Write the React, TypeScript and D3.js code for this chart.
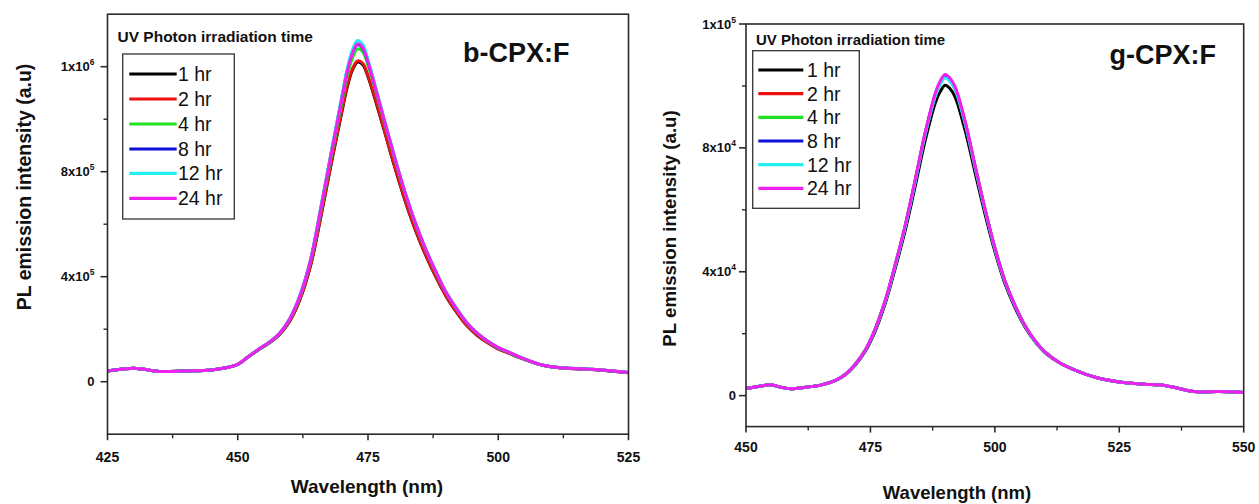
import React from "react";
import * as d3 from "d3";

// legend entries, shared by both panels
const seriesNames = ["1 hr", "2 hr", "4 hr", "8 hr", "12 hr", "24 hr"];
const seriesColors = ["#000000", "#ee1111", "#22e022", "#1010d8", "#22f0f0", "#f020f0"];

// ---- b-CPX:F  (intensity in units of 1e3 a.u.)
const bWavelength = [425, 428, 430, 432, 435, 440, 445, 448, 450, 452, 454, 456, 458, 460, 462, 464, 466, 468, 470, 471, 472, 473, 474, 475, 476, 478, 480, 482, 484, 486, 488, 490, 492, 494, 496, 498, 500, 502, 505, 508, 510, 513, 518, 522, 525];
const b1hr = [41, 48, 51, 47, 39, 41, 45, 54, 66, 94, 122, 147, 179, 231, 316, 444, 633, 836, 1030, 1121, 1187, 1218, 1208, 1162, 1100, 965, 826, 697, 583, 485, 400, 325, 265, 213, 176, 148, 125, 109, 85, 65, 57, 51, 46, 40, 34];
const b2hr = [41, 48, 51, 47, 39, 41, 45, 54, 66, 94, 122, 148, 180, 232, 318, 446, 636, 840, 1034, 1126, 1192, 1222, 1212, 1166, 1104, 968, 829, 699, 585, 487, 402, 326, 266, 214, 177, 148, 125, 109, 85, 65, 57, 51, 46, 40, 34];
const b4hr = [41, 48, 51, 47, 39, 41, 45, 54, 66, 95, 123, 149, 183, 238, 327, 460, 656, 864, 1066, 1164, 1232, 1268, 1256, 1205, 1140, 998, 857, 724, 607, 505, 418, 338, 276, 222, 183, 153, 129, 112, 86, 66, 58, 52, 47, 41, 35];
const b8hr = [41, 48, 51, 47, 39, 41, 45, 54, 66, 95, 124, 150, 184, 240, 331, 466, 667, 878, 1084, 1184, 1254, 1284, 1270, 1218, 1150, 1005, 862, 728, 610, 508, 420, 340, 278, 224, 184, 154, 130, 113, 87, 66, 58, 52, 47, 41, 35];
const b12hr = [41, 48, 51, 47, 39, 41, 45, 54, 66, 95, 124, 150, 184, 241, 332, 468, 670, 882, 1090, 1192, 1264, 1300, 1285, 1228, 1156, 1008, 864, 729, 611, 509, 421, 341, 279, 225, 185, 154, 130, 113, 87, 66, 58, 52, 47, 41, 35];
const b24hr = [41, 48, 51, 47, 39, 41, 45, 54, 66, 95, 124, 150, 184, 240, 330, 465, 665, 875, 1080, 1180, 1250, 1287, 1272, 1218, 1150, 1005, 862, 728, 610, 508, 420, 340, 278, 224, 184, 154, 130, 113, 87, 66, 58, 52, 47, 41, 35];

// ---- g-CPX:F  (intensity in units of 1e3 a.u.)
const gWavelength = [450, 453, 455, 457, 459, 462, 465, 468, 470, 472, 474, 476, 478, 480, 482, 484, 486, 488, 489, 490, 491, 492, 494, 496, 498, 500, 502, 504, 506, 508, 510, 513, 516, 520, 525, 530, 533, 536, 540, 545, 550];
const g1hr = [2.3, 3.1, 3.5, 2.7, 2.2, 2.7, 3.4, 4.9, 6.8, 10.0, 14.4, 21.0, 29.9, 41.2, 53.4, 67.6, 82.3, 94.3, 98.1, 100.2, 99.1, 96.5, 85.8, 72.2, 58.8, 46.6, 36.3, 28.6, 22.3, 17.6, 14.0, 10.6, 8.3, 6.0, 4.4, 3.7, 3.5, 2.7, 1.3, 1.3, 1.0];
const g2hr = [2.3, 3.1, 3.5, 2.7, 2.2, 2.7, 3.4, 4.9, 6.9, 10.2, 14.7, 21.6, 30.7, 42.2, 54.8, 69.4, 84.5, 96.8, 100.8, 103.0, 101.8, 99.2, 88.2, 74.1, 60.2, 47.6, 37.1, 29.2, 22.7, 17.8, 14.2, 10.6, 8.3, 6.0, 4.4, 3.7, 3.5, 2.7, 1.3, 1.3, 1.0];
const g4hr = [2.3, 3.1, 3.5, 2.7, 2.2, 2.7, 3.4, 4.9, 6.9, 10.2, 14.7, 21.6, 30.7, 42.3, 54.9, 69.5, 84.6, 97.0, 101.0, 103.2, 102.0, 99.3, 88.4, 74.2, 60.3, 47.7, 37.1, 29.2, 22.7, 17.8, 14.2, 10.6, 8.3, 6.0, 4.4, 3.7, 3.5, 2.7, 1.3, 1.3, 1.0];
const g8hr = [2.3, 3.1, 3.5, 2.7, 2.2, 2.7, 3.4, 4.9, 6.9, 10.2, 14.7, 21.6, 30.7, 42.2, 54.8, 69.4, 84.6, 96.9, 100.9, 103.0, 101.8, 99.2, 88.3, 74.1, 60.2, 47.6, 37.1, 29.2, 22.7, 17.8, 14.2, 10.6, 8.3, 6.0, 4.4, 3.7, 3.5, 2.7, 1.3, 1.3, 1.0];
const g12hr = [2.3, 3.1, 3.5, 2.7, 2.2, 2.7, 3.4, 4.9, 6.9, 10.2, 14.7, 21.5, 30.6, 42.1, 54.6, 69.1, 84.2, 96.4, 100.4, 102.6, 101.4, 98.8, 88.0, 73.9, 60.1, 47.5, 37.0, 29.2, 22.7, 17.8, 14.2, 10.6, 8.3, 6.0, 4.4, 3.7, 3.5, 2.7, 1.3, 1.3, 1.0];
const g24hr = [2.3, 3.1, 3.5, 2.7, 2.2, 2.7, 3.4, 4.9, 6.9, 10.2, 14.8, 21.7, 30.9, 42.5, 55.1, 69.8, 85.0, 97.5, 101.5, 103.7, 102.5, 99.8, 88.8, 74.5, 60.5, 47.8, 37.2, 29.3, 22.8, 17.9, 14.2, 10.6, 8.3, 6.0, 4.4, 3.7, 3.5, 2.7, 1.3, 1.3, 1.0];

// axis ticks (labels as printed on the original)
const bXTicks = [425, 450, 475, 500, 525];
const bYTicks = [0, 400000, 800000, 1200000];
const bYMinor = [200000, 600000, 1000000];
const bYLabels: [string, string][] = [["0", ""], ["4x10", "5"], ["8x10", "5"], ["1x10", "6"]];

const gXTicks = [450, 475, 500, 525, 550];
const gYTicks = [0, 40000, 80000, 120000];
const gYMinor = [20000, 60000, 100000];
const gYLabels: [string, string][] = [["0", ""], ["4x10", "4"], ["8x10", "4"], ["1x10", "5"]];

const FONT = "'Liberation Sans', Arial, Helvetica, sans-serif";

type Panel = {
  title: string;
  wavelength: number[];
  series: number[][];
  xDomain: [number, number];
  yDomain: [number, number];
  xTicks: number[];
  yTicks: number[];
  yMinor: number[];
  yLabels: [string, string][];
  box: { l: number; r: number; t: number; b: number };
  yLabelGap: number;
  xLabelBase: number;
  xTitle: { x: number; y: number; size: number };
  yTitle: { x: number; y: number; size: number };
  titlePos: { x: number; y: number };
  legend: { tx: number; ty: number; tsize: number; bx0: number; by0: number; bx1: number; by1: number; lx0: number; lx1: number; textX: number; rows: number[] };
};

const panels: Panel[] = [
  {
    title: "b-CPX:F",
    wavelength: bWavelength,
    series: [b1hr, b2hr, b4hr, b8hr, b12hr, b24hr],
    xDomain: [425, 525],
    yDomain: [-200000, 1400000],
    xTicks: bXTicks,
    yTicks: bYTicks,
    yMinor: bYMinor,
    yLabels: bYLabels,
    box: { l: 107.5, r: 628.5, t: 14.2, b: 434.2 },
    yLabelGap: 13,
    xLabelBase: 461.5,
    xTitle: { x: 367, y: 493, size: 19 },
    yTitle: { x: 24, y: 187, size: 19.5 },
    titlePos: { x: 463, y: 61.5 },
    legend: { tx: 117.5, ty: 41.5, tsize: 15.5, bx0: 122.7, by0: 54, bx1: 234.3, by1: 219, lx0: 129.3, lx1: 176.7, textX: 178, rows: [74, 99, 124, 149, 173.3, 198.3] },
  },
  {
    title: "g-CPX:F",
    wavelength: gWavelength,
    series: [g1hr, g2hr, g4hr, g8hr, g12hr, g24hr],
    xDomain: [450, 550],
    yDomain: [-10000, 120000],
    xTicks: gXTicks,
    yTicks: gYTicks,
    yMinor: gYMinor,
    yLabels: gYLabels,
    box: { l: 746, r: 1243.7, t: 24, b: 426.6 },
    yLabelGap: 10,
    xLabelBase: 452,
    xTitle: { x: 957, y: 499, size: 18.5 },
    yTitle: { x: 669, y: 228.5, size: 18.7 },
    titlePos: { x: 1109.5, y: 63.5 },
    legend: { tx: 756, ty: 44.5, tsize: 15, bx0: 752.7, by0: 50.7, bx1: 859.3, by1: 208.3, lx0: 758.3, lx1: 803.3, textX: 807, rows: [70, 93.7, 117.3, 141, 164.7, 188.3] },
  },
];

function PanelView({ p }: { p: Panel }) {
  const x = d3.scaleLinear().domain(p.xDomain).range([p.box.l, p.box.r]);
  const y = d3.scaleLinear().domain(p.yDomain).range([p.box.b, p.box.t]);
  const xMinor = d3.pairs(p.xTicks).map(([a, b]) => (a + b) / 2);
  const line = d3
    .line<number>()
    .x((_, i) => x(p.wavelength[i]))
    .y((v) => y(v * 1000))
    .curve(d3.curveCatmullRom.alpha(0.5));
  const axisColor = "#2a2a2a";
  const lg = p.legend;

  return (
    <g fontFamily={FONT}>
      {/* curves */}
      {p.series.map((s, i) => (
        <path key={i} d={line(s) || ""} fill="none" stroke={seriesColors[i]} strokeWidth={3} strokeLinejoin="round" />
      ))}

      {/* frame */}
      <rect x={p.box.l} y={p.box.t} width={p.box.r - p.box.l} height={p.box.b - p.box.t} fill="none" stroke={axisColor} strokeWidth={1.6} />

      {/* x ticks */}
      {p.xTicks.map((t) => (
        <g key={"xt" + t}>
          <line x1={x(t)} x2={x(t)} y1={p.box.b} y2={p.box.b + 6} stroke={axisColor} strokeWidth={1.6} />
          <text x={x(t)} y={p.xLabelBase} textAnchor="middle" fontSize={14} fontWeight="bold" fill="#111">
            {t}
          </text>
        </g>
      ))}
      {xMinor.map((t) => (
        <line key={"xm" + t} x1={x(t)} x2={x(t)} y1={p.box.b} y2={p.box.b + 4} stroke={axisColor} strokeWidth={1.4} />
      ))}

      {/* y ticks */}
      {p.yTicks.map((t, i) => (
        <g key={"yt" + t}>
          <line x1={p.box.l - 7} x2={p.box.l} y1={y(t)} y2={y(t)} stroke={axisColor} strokeWidth={1.6} />
          <text x={p.box.l - p.yLabelGap} y={y(t) + 4.5} textAnchor="end" fontSize={13} fontWeight="bold" fill="#111">
            {p.yLabels[i][0]}
            {p.yLabels[i][1] && (
              <tspan fontSize={8.5} dy={-6}>
                {p.yLabels[i][1]}
              </tspan>
            )}
          </text>
        </g>
      ))}
      {p.yMinor.map((t) => (
        <line key={"ym" + t} x1={p.box.l - 4} x2={p.box.l} y1={y(t)} y2={y(t)} stroke={axisColor} strokeWidth={1.4} />
      ))}

      {/* axis titles */}
      <text x={p.xTitle.x} y={p.xTitle.y} textAnchor="middle" fontSize={p.xTitle.size} fontWeight="bold" fill="#111">
        Wavelength (nm)
      </text>
      <text
        transform={`translate(${p.yTitle.x},${p.yTitle.y}) rotate(-90)`}
        textAnchor="middle"
        dominantBaseline="central"
        fontSize={p.yTitle.size}
        fontWeight="bold"
        fill="#111"
      >
        PL emission intensity (a.u)
      </text>

      {/* sample label */}
      <text x={p.titlePos.x} y={p.titlePos.y} fontSize={27} fontWeight="bold" fill="#111">
        {p.title}
      </text>

      {/* legend */}
      <text x={lg.tx} y={lg.ty} fontSize={lg.tsize} fontWeight="bold" fill="#111">
        UV Photon irradiation time
      </text>
      <rect x={lg.bx0} y={lg.by0} width={lg.bx1 - lg.bx0} height={lg.by1 - lg.by0} fill="none" stroke="#333" strokeWidth={1.3} />
      {seriesNames.map((n, i) => (
        <g key={n}>
          <line x1={lg.lx0} x2={lg.lx1} y1={lg.rows[i]} y2={lg.rows[i]} stroke={seriesColors[i]} strokeWidth={3.2} />
          <text x={lg.textX} y={lg.rows[i] + 7} fontSize={19.5} fill="#111">
            {n}
          </text>
        </g>
      ))}
    </g>
  );
}

export default function App() {
  return (
    <svg width={1259} height={504} style={{ position: "absolute", left: 0, top: 0, background: "#fff" }}>
      <rect width={1259} height={504} fill="#fff" />
      {panels.map((p) => (
        <PanelView key={p.title} p={p} />
      ))}
    </svg>
  );
}
